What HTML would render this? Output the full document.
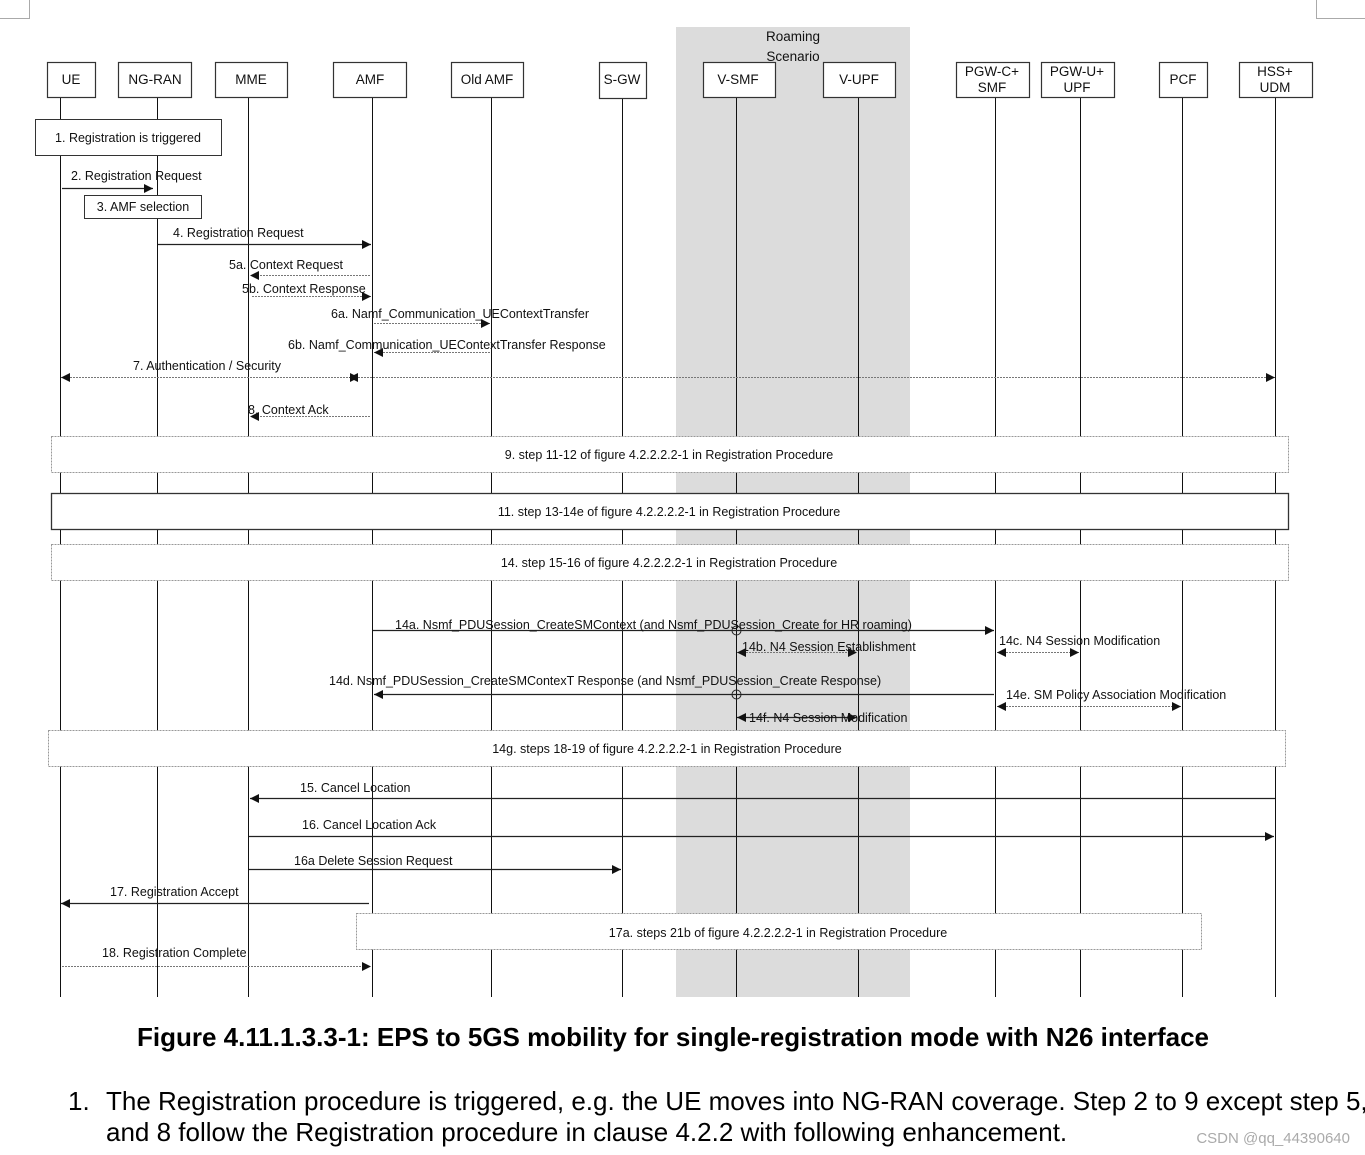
<!DOCTYPE html>
<html><head><meta charset="utf-8"><style>
html,body{margin:0;padding:0;background:#fff;}
svg{display:block;}
text{font-family:"Liberation Sans",Arial,sans-serif;}
.t{font-size:12.5px;fill:#111;}
.h{font-size:13.5px;fill:#111;}
</style></head><body>
<svg width="1365" height="1155" viewBox="0 0 1365 1155" xmlns="http://www.w3.org/2000/svg">
<defs>
<marker id="a" viewBox="0 0 10 10" refX="10" refY="5" markerWidth="9" markerHeight="9" markerUnits="userSpaceOnUse" orient="auto-start-reverse"><path d="M0,0L10,5L0,10z" fill="#111"/></marker>
</defs>
<!-- corners -->
<path d="M0,18.5H29.5V0" fill="none" stroke="#aaa"/>
<path d="M1365,18.5H1316.5V0" fill="none" stroke="#aaa"/>
<!-- gray region -->
<rect x="676" y="27" width="234" height="970" fill="#dcdcdc"/>
<text class="h" x="793" y="41" text-anchor="middle">Roaming</text>
<text class="h" x="793" y="61" text-anchor="middle">Scenario</text>
<!-- lifelines -->
<g stroke="#111" stroke-width="1">
<line x1="60.5" y1="98" x2="60.5" y2="997"/>
<line x1="157.5" y1="98" x2="157.5" y2="997"/>
<line x1="248.5" y1="98" x2="248.5" y2="997"/>
<line x1="372.5" y1="98" x2="372.5" y2="997"/>
<line x1="491.5" y1="98" x2="491.5" y2="997"/>
<line x1="622.5" y1="98" x2="622.5" y2="997"/>
<line x1="736.5" y1="98" x2="736.5" y2="997"/>
<line x1="858.5" y1="98" x2="858.5" y2="997"/>
<line x1="995.5" y1="98" x2="995.5" y2="997"/>
<line x1="1080.5" y1="98" x2="1080.5" y2="997"/>
<line x1="1182.5" y1="98" x2="1182.5" y2="997"/>
<line x1="1275.5" y1="98" x2="1275.5" y2="997"/>
</g>
<!-- header boxes -->
<g fill="#fff" stroke="#333" stroke-width="1.2">
<rect x="47.5" y="62.5" width="48" height="35"/>
<rect x="118.5" y="62.5" width="73" height="35"/>
<rect x="215.5" y="62.5" width="72" height="35"/>
<rect x="333.5" y="62.5" width="73" height="35"/>
<rect x="451.5" y="62.5" width="72" height="35"/>
<rect x="599.5" y="62.5" width="47" height="36"/>
<rect x="703.5" y="62.5" width="72" height="35"/>
<rect x="823.5" y="62.5" width="72" height="35"/>
<rect x="956.5" y="62.5" width="73" height="35"/>
<rect x="1041.5" y="62.5" width="73" height="35"/>
<rect x="1159.5" y="62.5" width="48" height="35"/>
<rect x="1239.5" y="62.5" width="73" height="35"/>
</g>
<g class="h" text-anchor="middle">
<text x="71" y="84">UE</text>
<text x="155" y="84">NG-RAN</text>
<text x="251" y="84">MME</text>
<text x="370" y="84">AMF</text>
<text x="487" y="84">Old AMF</text>
<text x="622" y="84">S-GW</text>
<text x="738" y="84">V-SMF</text>
<text x="859" y="84">V-UPF</text>
<text x="992" y="76">PGW-C+</text><text x="992" y="92">SMF</text>
<text x="1077" y="76">PGW-U+</text><text x="1077" y="92">UPF</text>
<text x="1183" y="84">PCF</text>
<text x="1275" y="76">HSS+</text><text x="1275" y="92">UDM</text>
</g>
<!-- step boxes -->
<rect x="35.5" y="119.5" width="186" height="36" fill="#fff" stroke="#333"/>
<text class="t" x="128" y="142" text-anchor="middle">1. Registration is triggered</text>
<rect x="84.5" y="195.5" width="117" height="23" fill="#fff" stroke="#333"/>
<text class="t" x="143" y="211" text-anchor="middle">3. AMF selection</text>
<g fill="#fff" stroke="#999" stroke-dasharray="2,1">
<rect x="51.5" y="436.5" width="1237" height="36"/>
<rect x="51.5" y="544.5" width="1237" height="36"/>
<rect x="48.5" y="730.5" width="1237" height="36"/>
<rect x="356.5" y="913.5" width="845" height="36"/>
</g>
<rect x="51.5" y="493.5" width="1237" height="36" fill="#fff" stroke="#333" stroke-width="1.3"/>
<g class="t" text-anchor="middle">
<text x="669" y="459">9. step 11-12 of figure 4.2.2.2.2-1 in Registration Procedure</text>
<text x="669" y="516">11. step 13-14e of figure 4.2.2.2.2-1 in Registration Procedure</text>
<text x="669" y="567">14. step 15-16 of figure 4.2.2.2.2-1 in Registration Procedure</text>
<text x="667" y="753">14g. steps 18-19 of figure 4.2.2.2.2-1 in Registration Procedure</text>
<text x="778" y="937">17a. steps 21b of figure 4.2.2.2.2-1 in Registration Procedure</text>
</g>
<!-- solid messages -->
<g stroke="#222" stroke-width="1.3" marker-end="url(#a)">
<line x1="62" y1="188.5" x2="153" y2="188.5"/>
<line x1="158" y1="244.5" x2="371" y2="244.5"/>
<line x1="373" y1="630.5" x2="994" y2="630.5"/>
<line x1="994" y1="694.5" x2="374" y2="694.5"/>
<line x1="1275" y1="798.5" x2="250" y2="798.5"/>
<line x1="249" y1="836.5" x2="1274" y2="836.5"/>
<line x1="249" y1="869.5" x2="621" y2="869.5"/>
<line x1="369" y1="903.5" x2="61" y2="903.5"/>
</g>
<g stroke="#222" stroke-width="1.3" marker-start="url(#a)" marker-end="url(#a)">
<line x1="737" y1="717.5" x2="857" y2="717.5"/>
</g>
<!-- dashed messages -->
<g stroke="#777" stroke-width="1" stroke-dasharray="2,1" marker-end="url(#a)">
<line x1="370" y1="275.5" x2="250" y2="275.5"/>
<line x1="252" y1="296.5" x2="371" y2="296.5"/>
<line x1="374" y1="323.5" x2="490" y2="323.5"/>
<line x1="490" y1="352.5" x2="374" y2="352.5"/>
<line x1="370" y1="416.5" x2="250" y2="416.5"/>
<line x1="62" y1="966.5" x2="371" y2="966.5"/>
</g>
<g stroke="#777" stroke-width="1" stroke-dasharray="2,1" marker-start="url(#a)" marker-end="url(#a)">
<line x1="61" y1="377.5" x2="359" y2="377.5"/>
<line x1="349" y1="377.5" x2="1275" y2="377.5"/>
<line x1="737" y1="652.5" x2="857" y2="652.5"/>
<line x1="997" y1="652.5" x2="1079" y2="652.5"/>
<line x1="997" y1="706.5" x2="1181" y2="706.5"/>
</g>
<circle cx="736.5" cy="630.5" r="4.5" fill="none" stroke="#222"/>
<circle cx="736.5" cy="694.5" r="4.5" fill="none" stroke="#222"/>
<!-- labels -->
<g class="t">
<text x="71" y="180">2. Registration Request</text>
<text x="173" y="237">4. Registration Request</text>
<text x="229" y="269">5a. Context Request</text>
<text x="242" y="293">5b. Context Response</text>
<text x="331" y="318">6a. Namf_Communication_UEContextTransfer</text>
<text x="288" y="349">6b. Namf_Communication_UEContextTransfer Response</text>
<text x="133" y="370">7. Authentication / Security</text>
<text x="248" y="414">8. Context Ack</text>
<text x="395" y="629">14a. Nsmf_PDUSession_CreateSMContext (and Nsmf_PDUSession_Create for HR roaming)</text>
<text x="742" y="651">14b. N4 Session Establishment</text>
<text x="999" y="645">14c. N4 Session Modification</text>
<text x="329" y="685">14d. Nsmf_PDUSession_CreateSMContexT Response (and Nsmf_PDUSession_Create Response)</text>
<text x="1006" y="699">14e. SM Policy Association Modification</text>
<text x="749" y="722">14f. N4 Session Modification</text>
<text x="300" y="792">15. Cancel Location</text>
<text x="302" y="829">16. Cancel Location Ack</text>
<text x="294" y="865">16a Delete Session Request</text>
<text x="110" y="896">17. Registration Accept</text>
<text x="102" y="957">18. Registration Complete</text>
</g>
<text x="673" y="1046" text-anchor="middle" style="font-size:26px;font-weight:bold;" fill="#000">Figure 4.11.1.3.3-1: EPS to 5GS mobility for single-registration mode with N26 interface</text>
<g style="font-family:'Liberation Serif',serif;font-size:26px;" fill="#000">
<text x="68" y="1110">1.</text>
<text x="106" y="1110">The Registration procedure is triggered, e.g. the UE moves into NG-RAN coverage. Step 2 to 9 except step 5, 6</text>
<text x="106" y="1141">and 8 follow the Registration procedure in clause 4.2.2 with following enhancement.</text>
</g>
<text x="1350" y="1143" text-anchor="end" style="font-size:15px;" fill="#aaa">CSDN @qq_44390640</text>
</svg>
</body></html>
